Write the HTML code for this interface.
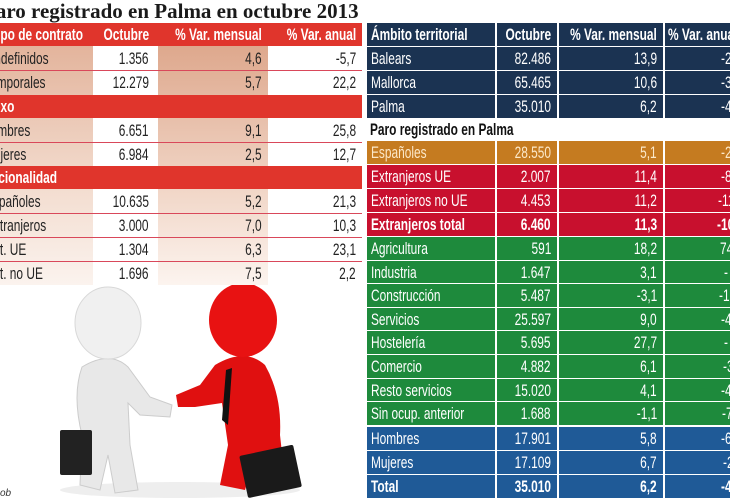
<!DOCTYPE html>
<html><head><meta charset="utf-8"><style>
*{margin:0;padding:0;box-sizing:border-box}
body{width:730px;height:500px;overflow:hidden;position:relative;background:#fff;font-family:"Liberation Sans",sans-serif;font-size:17px}
.c{position:absolute;height:23px;line-height:23px;white-space:nowrap;overflow:hidden}
.c>span{display:inline-block;transform:scaleX(.7);transform-origin:0 50%}
.r{text-align:right;padding-right:6px}
.r>span{transform-origin:100% 50%;position:absolute;right:6px;top:0}
.l{padding-left:4px}
.w{color:#fff}
.b{font-weight:bold}
.t{color:#222}
.n{background:#1b3352}.o{background:#c57b20;color:#fce8c8}.d{background:#c8102e}.g{background:#1e8a3c}.u{background:#1f5a97}
.g,.u,.d,.n{color:#fff}
.x{left:665px;width:65px;padding-left:56px}
.c1{left:367px;width:128px}.c2{left:497px;width:60px}.c3{left:559px;width:104px}
</style></head><body>
<div style="position:absolute;left:-17px;top:-1px;font-family:'Liberation Serif',serif;font-weight:bold;font-size:21px;color:#1a1a1a;white-space:nowrap">Paro registrado en Palma en octubre 2013</div>

<!-- LEFT TABLE -->
<div style="position:absolute;left:0;top:23px;width:362px;height:23px;background:#e0352c"></div>
<div class="c w b" style="left:-10px;top:23px"><span>Tipo de contrato</span></div>
<div class="c w b r" style="left:95px;top:23px;width:60px"><span>Octubre</span></div>
<div class="c w b r" style="left:158px;top:23px;width:110px"><span>% Var. mensual</span></div>
<div class="c w b r" style="left:270px;top:23px;width:92px"><span>% Var. anual</span></div>

<div style="position:absolute;left:0;top:46px;width:93px;height:239px;background:linear-gradient(#e3b49c,#f3ddd0 60%,#fbf3ee)"></div>
<div style="position:absolute;left:158px;top:46px;width:110px;height:239px;background:linear-gradient(#dea88d,#f1d6c7 60%,#fcf4ef)"></div>

<div style="position:absolute;left:0;top:95px;width:362px;height:23px;background:#e0352c"></div>
<div class="c w b" style="left:-14px;top:95px"><span>Sexo</span></div>
<div style="position:absolute;left:0;top:166px;width:362px;height:23px;background:#e0352c"></div>
<div class="c w b" style="left:-17px;top:166px"><span>Nacionalidad</span></div>

<div style="position:absolute;left:0;top:70px;width:362px;height:1px;background:#d9485a"></div>
<div style="position:absolute;left:0;top:142px;width:362px;height:1px;background:#d9485a"></div>
<div style="position:absolute;left:0;top:213px;width:362px;height:1px;background:#d9485a"></div>
<div style="position:absolute;left:0;top:237px;width:362px;height:1px;background:#d9485a"></div>
<div style="position:absolute;left:0;top:261px;width:362px;height:1px;background:#d9485a"></div>

<div class="c t" style="left:-9px;top:47px"><span>Indefinidos</span></div><div class="c t r" style="left:95px;top:47px;width:60px"><span>1.356</span></div><div class="c t r" style="left:158px;top:47px;width:110px"><span>4,6</span></div><div class="c t r" style="left:270px;top:47px;width:92px"><span>-5,7</span></div>
<div class="c t" style="left:-16px;top:71px"><span>Temporales</span></div><div class="c t r" style="left:95px;top:71px;width:60px"><span>12.279</span></div><div class="c t r" style="left:158px;top:71px;width:110px"><span>5,7</span></div><div class="c t r" style="left:270px;top:71px;width:92px"><span>22,2</span></div>
<div class="c t" style="left:-18px;top:119px"><span>Hombres</span></div><div class="c t r" style="left:95px;top:119px;width:60px"><span>6.651</span></div><div class="c t r" style="left:158px;top:119px;width:110px"><span>9,1</span></div><div class="c t r" style="left:270px;top:119px;width:92px"><span>25,8</span></div>
<div class="c t" style="left:-16px;top:143px"><span>Mujeres</span></div><div class="c t r" style="left:95px;top:143px;width:60px"><span>6.984</span></div><div class="c t r" style="left:158px;top:143px;width:110px"><span>2,5</span></div><div class="c t r" style="left:270px;top:143px;width:92px"><span>12,7</span></div>
<div class="c t" style="left:-15px;top:190px"><span>Españoles</span></div><div class="c t r" style="left:95px;top:190px;width:60px"><span>10.635</span></div><div class="c t r" style="left:158px;top:190px;width:110px"><span>5,2</span></div><div class="c t r" style="left:270px;top:190px;width:92px"><span>21,3</span></div>
<div class="c t" style="left:-14px;top:214px"><span>Extranjeros</span></div><div class="c t r" style="left:95px;top:214px;width:60px"><span>3.000</span></div><div class="c t r" style="left:158px;top:214px;width:110px"><span>7,0</span></div><div class="c t r" style="left:270px;top:214px;width:92px"><span>10,3</span></div>
<div class="c t" style="left:-14px;top:238px"><span>Ext. UE</span></div><div class="c t r" style="left:95px;top:238px;width:60px"><span>1.304</span></div><div class="c t r" style="left:158px;top:238px;width:110px"><span>6,3</span></div><div class="c t r" style="left:270px;top:238px;width:92px"><span>23,1</span></div>
<div class="c t" style="left:-14px;top:262px"><span>Ext. no UE</span></div><div class="c t r" style="left:95px;top:262px;width:60px"><span>1.696</span></div><div class="c t r" style="left:158px;top:262px;width:110px"><span>7,5</span></div><div class="c t r" style="left:270px;top:262px;width:92px"><span>2,2</span></div>

<!-- ILLUSTRATION -->
<svg style="position:absolute;left:0;top:285px" width="365" height="215">
<ellipse cx="180" cy="205" rx="120" ry="8" fill="#eee"/>
<path d="M82 82 Q110 65 128 82 L150 112 L172 120 L170 132 L140 130 L128 118 L130 160 L138 205 L115 208 L108 170 L100 205 L80 200 L82 150 Q72 110 82 82Z" fill="#e8e8e8" stroke="#ccc"/>
<ellipse cx="108" cy="38" rx="33" ry="36" fill="#f0f0f0" stroke="#d8d8d8"/>
<rect x="60" y="145" width="32" height="45" rx="2" fill="#222"/>
<path d="M215 80 Q245 62 265 80 Q282 110 280 150 L285 195 L262 200 L255 170 L245 205 L220 200 L228 160 L222 118 L195 122 L178 122 L176 110 L200 100Z" fill="#e01010"/>
<ellipse cx="243" cy="35" rx="34" ry="37" fill="#e81212"/>
<path d="M226 85 L232 83 L228 140 L222 135Z" fill="#111"/>
<rect x="243" y="165" width="55" height="43" rx="2" fill="#1a1a1a" transform="rotate(-12 270 186)"/>
<text x="0" y="211" font-size="10" font-style="italic" fill="#333" font-family="Liberation Sans">ob</text>
</svg>

<!-- RIGHT TABLE -->
<div class="c b l n c1" style="top:23px"><span>Ámbito territorial</span></div>
<div class="c b r n c2" style="top:23px"><span>Octubre</span></div>
<div class="c b r n c3" style="top:23px"><span>% Var. mensual</span></div>
<div class="c b n" style="left:665px;width:65px;top:23px;padding-left:3px"><span>% Var. anual</span></div>

<div class="c l n c1" style="top:47px"><span>Balears</span></div><div class="c r n c2" style="top:47px"><span>82.486</span></div><div class="c r n c3" style="top:47px"><span>13,9</span></div><div class="c n x" style="top:47px"><span>-2</span></div>
<div class="c l n c1" style="top:71px"><span>Mallorca</span></div><div class="c r n c2" style="top:71px"><span>65.465</span></div><div class="c r n c3" style="top:71px"><span>10,6</span></div><div class="c n x" style="top:71px"><span>-3</span></div>
<div class="c l n c1" style="top:95px"><span>Palma</span></div><div class="c r n c2" style="top:95px"><span>35.010</span></div><div class="c r n c3" style="top:95px"><span>6,2</span></div><div class="c n x" style="top:95px"><span>-4</span></div>

<div class="c b" style="left:370px;top:118px;color:#111"><span>Paro registrado en Palma</span></div>

<div class="c l o c1" style="top:141px"><span>Españoles</span></div><div class="c r o c2" style="top:141px"><span>28.550</span></div><div class="c r o c3" style="top:141px"><span>5,1</span></div><div class="c o x" style="top:141px"><span>-2</span></div>
<div class="c l d c1" style="top:165px"><span>Extranjeros UE</span></div><div class="c r d c2" style="top:165px"><span>2.007</span></div><div class="c r d c3" style="top:165px"><span>11,4</span></div><div class="c d x" style="top:165px"><span>-8</span></div>
<div class="c l d c1" style="top:189px"><span>Extranjeros no UE</span></div><div class="c r d c2" style="top:189px"><span>4.453</span></div><div class="c r d c3" style="top:189px"><span>11,2</span></div><div class="c d x" style="top:189px;padding-left:53px"><span>-11</span></div>
<div class="c b l d c1" style="top:213px"><span>Extranjeros total</span></div><div class="c b r d c2" style="top:213px"><span>6.460</span></div><div class="c b r d c3" style="top:213px"><span>11,3</span></div><div class="c b d x" style="top:213px;padding-left:52px"><span>-10</span></div>

<div class="c l g c1" style="top:237px;height:22.6px"><span>Agricultura</span></div><div class="c r g c2" style="top:237px;height:22.6px"><span>591</span></div><div class="c r g c3" style="top:237px;height:22.6px"><span>18,2</span></div><div class="c g x" style="top:237px;height:22.6px;padding-left:55px"><span>74</span></div>
<div class="c l g c1" style="top:260.6px;height:22.6px"><span>Industria</span></div><div class="c r g c2" style="top:260.6px;height:22.6px"><span>1.647</span></div><div class="c r g c3" style="top:260.6px;height:22.6px"><span>3,1</span></div><div class="c g x" style="top:260.6px;height:22.6px;padding-left:59px"><span>-</span></div>
<div class="c l g c1" style="top:284.2px;height:22.6px"><span>Construcción</span></div><div class="c r g c2" style="top:284.2px;height:22.6px"><span>5.487</span></div><div class="c r g c3" style="top:284.2px;height:22.6px"><span>-3,1</span></div><div class="c g x" style="top:284.2px;height:22.6px;padding-left:54px"><span>-1</span></div>
<div class="c l g c1" style="top:307.8px;height:22.6px"><span>Servicios</span></div><div class="c r g c2" style="top:307.8px;height:22.6px"><span>25.597</span></div><div class="c r g c3" style="top:307.8px;height:22.6px"><span>9,0</span></div><div class="c g x" style="top:307.8px;height:22.6px"><span>-4</span></div>
<div class="c l g c1" style="top:331.4px;height:22.6px"><span>Hostelería</span></div><div class="c r g c2" style="top:331.4px;height:22.6px"><span>5.695</span></div><div class="c r g c3" style="top:331.4px;height:22.6px"><span>27,7</span></div><div class="c g x" style="top:331.4px;height:22.6px;padding-left:59px"><span>-</span></div>
<div class="c l g c1" style="top:355px;height:22.6px"><span>Comercio</span></div><div class="c r g c2" style="top:355px;height:22.6px"><span>4.882</span></div><div class="c r g c3" style="top:355px;height:22.6px"><span>6,1</span></div><div class="c g x" style="top:355px;height:22.6px;padding-left:58px"><span>-3</span></div>
<div class="c l g c1" style="top:378.6px;height:22.6px"><span>Resto servicios</span></div><div class="c r g c2" style="top:378.6px;height:22.6px"><span>15.020</span></div><div class="c r g c3" style="top:378.6px;height:22.6px"><span>4,1</span></div><div class="c g x" style="top:378.6px;height:22.6px"><span>-4</span></div>
<div class="c l g c1" style="top:402.2px;height:22.6px"><span>Sin ocup. anterior</span></div><div class="c r g c2" style="top:402.2px;height:22.6px"><span>1.688</span></div><div class="c r g c3" style="top:402.2px;height:22.6px"><span>-1,1</span></div><div class="c g x" style="top:402.2px;height:22.6px;padding-left:57px"><span>-7</span></div>

<div class="c l u c1" style="top:427px"><span>Hombres</span></div><div class="c r u c2" style="top:427px"><span>17.901</span></div><div class="c r u c3" style="top:427px"><span>5,8</span></div><div class="c u x" style="top:427px"><span>-6</span></div>
<div class="c l u c1" style="top:451px"><span>Mujeres</span></div><div class="c r u c2" style="top:451px"><span>17.109</span></div><div class="c r u c3" style="top:451px"><span>6,7</span></div><div class="c u x" style="top:451px;padding-left:58px"><span>-2</span></div>
<div class="c b l u c1" style="top:475px"><span>Total</span></div><div class="c b r u c2" style="top:475px"><span>35.010</span></div><div class="c b r u c3" style="top:475px"><span>6,2</span></div><div class="c b u x" style="top:475px"><span>-4</span></div>
</body></html>
